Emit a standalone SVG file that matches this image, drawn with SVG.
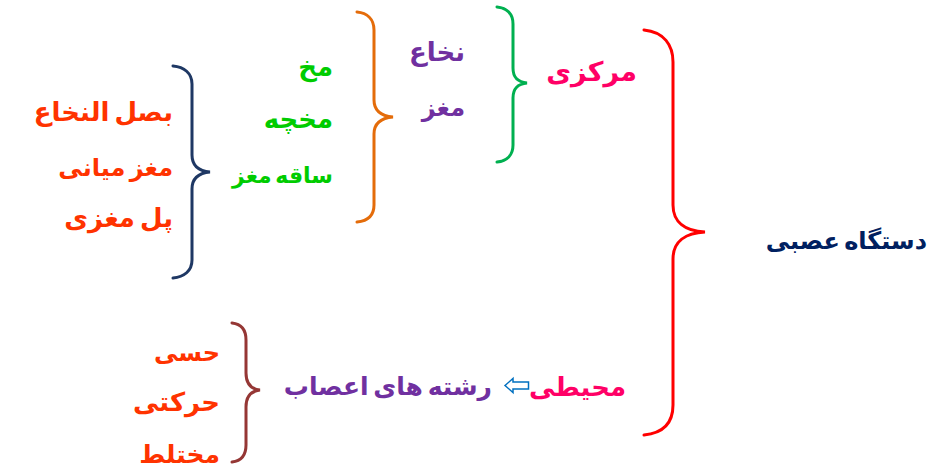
<svg xmlns="http://www.w3.org/2000/svg" width="936" height="471" viewBox="0 0 936 471">
<style>
.t{font-family:"DejaVu Sans","Noto Sans",sans-serif;font-weight:bold;font-size:26px;text-anchor:end;word-spacing:-4px}
.b{fill:none;stroke-width:3;stroke-linecap:round}
</style>
<rect width="936" height="471" fill="#fff"/>
<g id="connectors">
<path id="brace-red" class="b" stroke="#FF0000" d="M644,30 C664,32 673,45 673,62 L673,205 C673,222 685,231 705,232 C685,233 673,242 673,259 L673,405 C673,422 664,433 644,435"/>
<path id="brace-green" class="b" stroke="#00B050" d="M497,7 C507,8 513,14 513,24 L513,68 C513,78 518,82 527,83 C518,84 513,88 513,98 L513,145 C513,155 507,161 497,162"/>
<path id="brace-orange" class="b" stroke="#E46C0A" d="M357,12 C367,13 374,19 374,30 L374,100 C374,111 382,116 393,117 C382,118 374,123 374,134 L374,205 C374,216 367,221 357,222"/>
<path id="brace-navy" class="b" stroke="#1F3864" d="M173,66 C184,67 192,73 192,84 L192,155 C192,166 199,171 210,172 C199,173 192,178 192,189 L192,260 C192,271 184,277 173,278"/>
<path id="brace-brown" class="b" stroke="#953735" d="M232,323 C241,324 246,330 246,340 L246,373 C246,383 251,389 260,390 C251,391 246,397 246,407 L246,445 C246,455 241,461 232,462"/>
<path id="arrow" fill="#fff" stroke="#0070C0" stroke-width="1.5" d="M505,385.5 L513,378.5 L513,382 L528.5,382 L528.5,389 L513,389 L513,392.5 Z"/>
</g>
<g id="node-root"><text class="t" x="927" y="249" fill="#002060" style="font-size:24px">دستگاه عصبی</text></g>
<g id="node-central"><text class="t" x="637" y="81" fill="#FF0066" style="font-size:27px">مرکزی</text></g>
<g id="node-peripheral"><text class="t" x="626" y="396" fill="#FF0066" style="font-size:26px">محیطی</text></g>
<g id="node-nerves"><text class="t" x="492" y="395" fill="#7030A0" style="font-size:25px">رشته های اعصاب</text></g>
<g id="node-spinal"><text class="t" x="465" y="61" fill="#7030A0">نخاع</text></g>
<g id="node-brain"><text class="t" x="465" y="116" fill="#7030A0" style="font-size:24px">مغز</text></g>
<g id="node-cerebrum"><text class="t" x="333" y="76" fill="#00CC00">مخ</text></g>
<g id="node-cerebellum"><text class="t" x="333" y="128" fill="#00CC00">مخچه</text></g>
<g id="node-brainstem"><text class="t" x="333" y="183" fill="#00CC00" style="font-size:22px">ساقه مغز</text></g>
<g id="node-medulla"><text class="t" x="173" y="121" fill="#FF3300">بصل النخاع</text></g>
<g id="node-midbrain"><text class="t" x="173" y="176" fill="#FF3300" style="font-size:24px">مغز میانی</text></g>
<g id="node-pons"><text class="t" x="173" y="227" fill="#FF3300">پل مغزی</text></g>
<g id="node-sensory"><text class="t" x="220" y="361" fill="#FF3300" style="font-size:24px">حسی</text></g>
<g id="node-motor"><text class="t" x="220" y="411" fill="#FF3300">حرکتی</text></g>
<g id="node-mixed"><text class="t" x="220" y="463" fill="#FF3300" style="font-size:25px">مختلط</text></g>
</svg>
